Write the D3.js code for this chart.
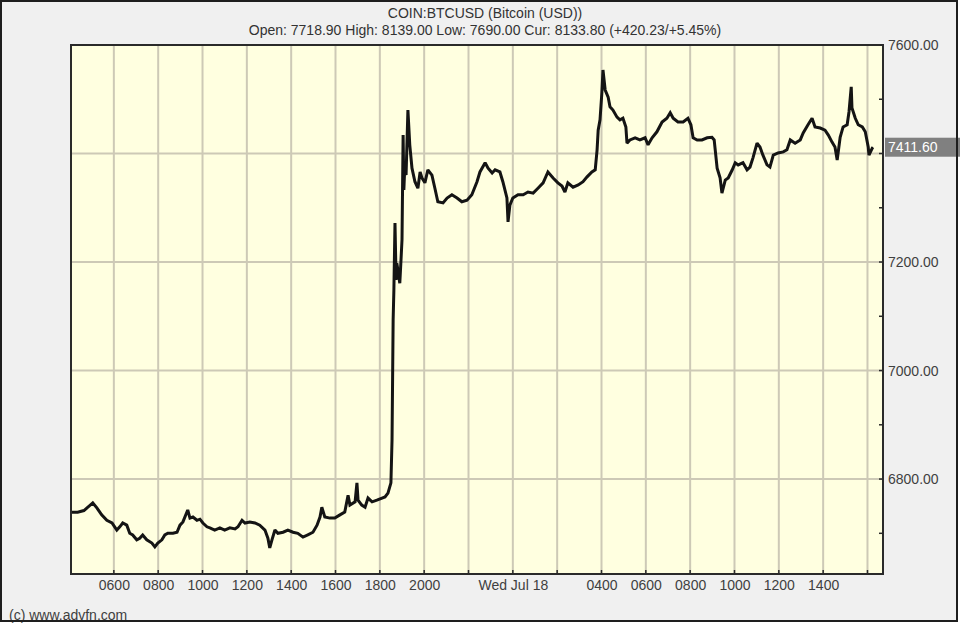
<!DOCTYPE html>
<html>
<head>
<meta charset="utf-8">
<script src="https://cdn.jsdelivr.net/npm/d3@7"></script>
<style>
  html, body { margin: 0; padding: 0; background: #ffffff; }
  svg { display: block; font-family: "Liberation Sans", Arial, sans-serif; }
</style>
</head>
<body>
<svg id="chart" width="960" height="624"></svg>
<script>
// ---------------- data ----------------
const titleLine1 = "COIN:BTCUSD (Bitcoin (USD))";
const titleLine2 = "Open: 7718.90 High: 8139.00 Low: 7690.00 Cur: 8133.80 (+420.23/+5.45%)";
const copyright = "(c) www.advfn.com";
const currentPrice = 7411.60;

const jul17Times = ["04:06","04:22","04:39","05:03","05:14","05:27","05:41","05:55","06:08","06:16",
  "06:24","06:35","06:43","06:51","07:02","07:10","07:18","07:29","07:43","07:51",
  "07:59","08:10","08:18","08:26","08:40","08:51","08:59","09:07","09:20","09:26",
  "09:34","09:45","09:53","10:01","10:12","10:20","10:33","10:47","11:00","11:14",
  "11:28","11:36","11:47","11:55","12:08","12:22","12:35","12:49","12:57","13:02",
  "13:08","13:16","13:24","13:38","13:51","14:05","14:18","14:32","14:45","14:59",
  "15:10","15:18","15:23","15:31","15:45","15:58","16:12","16:25","16:34","16:39",
  "16:53","16:58","17:01","17:11","17:20","17:28","17:39","17:52","18:06","18:14",
  "18:22","18:30","18:33","18:36","18:38","18:41","18:44","18:46","18:49","18:54",
  "18:57","19:00","19:03","19:05","19:08","19:11","19:16","19:21","19:27","19:35",
  "19:43","19:49","19:54","20:02","20:10","20:21","20:29","20:37","20:51","21:02",
  "21:15","21:29","21:42","21:56","22:09","22:23","22:31","22:45","22:53","23:04",
  "23:12","23:25","23:33","23:44","23:47","23:52"];
const jul17Prices = [6739,6739,6742,6756,6747,6734,6724,6719,6706,6712,
  6719,6715,6700,6697,6688,6691,6697,6688,6682,6675,
  6682,6688,6697,6700,6700,6702,6715,6721,6743,6728,
  6730,6724,6726,6719,6712,6710,6706,6710,6706,6710,
  6708,6712,6724,6719,6721,6719,6715,6706,6691,6673,
  6688,6706,6700,6702,6706,6702,6700,6693,6697,6702,
  6715,6730,6748,6730,6728,6728,6734,6739,6770,6752,
  6758,6793,6761,6752,6748,6765,6758,6761,6765,6767,
  6774,6793,6872,7093,7148,7272,7167,7198,7185,7161,
  7200,7241,7434,7333,7384,7360,7480,7416,7373,7348,
  7336,7366,7355,7346,7370,7360,7336,7311,7309,7318,
  7324,7318,7311,7314,7324,7348,7366,7383,7373,7364,
  7370,7366,7348,7318,7274,7305];

const jul18Times = ["00:00","00:14","00:28","00:41","00:55","01:08","01:22","01:35","01:49","02:02",
  "02:13","02:21","02:29","02:43","02:57","03:10","03:21","03:34","03:43","03:48",
  "03:51","03:56","04:01","04:04","04:10","04:18","04:23","04:31","04:42","04:50",
  "04:58","05:06","05:09","05:17","05:31","05:44","05:58","06:06","06:17","06:30",
  "06:44","06:57","07:06","07:14","07:27","07:41","07:54","08:02","08:08","08:19",
  "08:32","08:46","08:59","09:05","09:13","09:21","09:26","09:35","09:43","09:54",
  "10:02","10:10","10:23","10:34","10:42","10:50","11:01","11:09","11:17","11:28",
  "11:36","11:45","11:58","12:12","12:22","12:31","12:44","12:58","13:06","13:19",
  "13:30","13:38","13:52","14:05","14:14","14:24","14:32","14:38","14:46","14:54",
  "15:05","15:10","15:16","15:18","15:27","15:35","15:46","15:54","16:02","16:04",
  "16:13","16:15"];
const jul18Prices = [7318,7324,7324,7329,7327,7336,7346,7366,7355,7346,
  7340,7329,7346,7338,7342,7348,7357,7366,7370,7406,
  7443,7462,7512,7554,7517,7504,7486,7480,7467,7462,
  7465,7449,7419,7425,7429,7425,7429,7416,7429,7440,
  7458,7465,7475,7465,7458,7458,7465,7453,7429,7425,
  7425,7429,7430,7425,7373,7355,7327,7351,7355,7370,
  7383,7379,7383,7370,7375,7392,7419,7412,7397,7379,
  7375,7397,7401,7403,7407,7425,7419,7425,7438,7453,
  7465,7449,7447,7443,7434,7421,7412,7388,7430,7449,
  7453,7477,7523,7484,7465,7453,7449,7440,7412,7397,
  7410,7411.6];

const yDomain = [6625, 7600];
const yGridValues = [7600, 7400, 7200, 7000, 6800];
const yMinorValues = [7500, 7300, 7100, 6900, 6700];
const xStart = "2018-07-17T04:04:00Z";
const xEnd = "2018-07-18T16:42:00Z";
const xTickLabels = ["0600","0800","1000","1200","1400","1600","1800","2000","",
  "Wed Jul 18","","0400","0600","0800","1000","1200","1400",""];

// ---------------- build ----------------
const parse = d3.utcParse("%Y-%m-%d %H:%M");
const data = [];
jul17Times.forEach((t, i) => data.push({ t: parse("2018-07-17 " + t), v: jul17Prices[i] }));
jul18Times.forEach((t, i) => data.push({ t: parse("2018-07-18 " + t), v: jul18Prices[i] }));

const W = 960, H = 624;
const plot = { left: 71, right: 883, top: 45, bottom: 574 };

const svg = d3.select("#chart");

svg.append("rect").attr("x", 0).attr("y", 0).attr("width", W).attr("height", H).attr("fill", "#ffffff");
svg.append("rect").attr("x", 1).attr("y", 1).attr("width", 956).attr("height", 620).attr("fill", "#f0f0f0");

const x = d3.scaleUtc().domain([new Date(xStart), new Date(xEnd)]).range([plot.left, plot.right]);
const y = d3.scaleLinear().domain(yDomain).range([plot.bottom, plot.top]);

svg.append("rect")
  .attr("x", plot.left).attr("y", plot.top)
  .attr("width", plot.right - plot.left).attr("height", plot.bottom - plot.top)
  .attr("fill", "#ffffe0");

const xTicks = d3.utcHour.every(2).range(new Date("2018-07-17T06:00:00Z"), new Date("2018-07-18T16:01:00Z"));

// grid
const grid = svg.append("g").attr("stroke", "#cdc9b6").attr("stroke-width", 2);
grid.selectAll("line.v").data(xTicks).join("line")
  .attr("x1", d => x(d)).attr("x2", d => x(d))
  .attr("y1", plot.top).attr("y2", plot.bottom);
grid.selectAll("line.h").data(yGridValues.filter(v => v < 7600)).join("line")
  .attr("x1", plot.left).attr("x2", plot.right)
  .attr("y1", d => y(d)).attr("y2", d => y(d));

// price line
svg.append("clipPath").attr("id", "plotclip").append("rect")
  .attr("x", plot.left).attr("y", plot.top)
  .attr("width", plot.right - plot.left).attr("height", plot.bottom - plot.top);

const line = d3.line().x(d => x(d.t)).y(d => y(d.v));
svg.append("path")
  .datum(data)
  .attr("clip-path", "url(#plotclip)")
  .attr("fill", "none")
  .attr("stroke", "#141414")
  .attr("stroke-width", 3)
  .attr("stroke-linejoin", "miter")
  .attr("stroke-miterlimit", 2)
  .attr("d", line);

// plot border
svg.append("rect")
  .attr("x", plot.left).attr("y", plot.top)
  .attr("width", plot.right - plot.left).attr("height", plot.bottom - plot.top)
  .attr("fill", "none").attr("stroke", "#2a2a2a").attr("stroke-width", 2);

// bottom axis
const xAxis = d3.axisBottom(x).tickValues(xTicks).tickSize(0).tickPadding(0)
  .tickFormat((d, i) => xTickLabels[i]);
const gx = svg.append("g").attr("transform", `translate(0,${plot.bottom})`).call(xAxis);
gx.select(".domain").remove();
gx.selectAll("text").attr("dy", null).attr("y", 16).attr("font-size", 14)
  .attr("font-family", "Liberation Sans, Arial, sans-serif").attr("fill", "#404040");
svg.append("g").selectAll("line").data(xTicks).join("line")
  .attr("x1", d => x(d)).attr("x2", d => x(d))
  .attr("y1", plot.bottom - 4).attr("y2", plot.bottom)
  .attr("stroke", "#2a2a2a").attr("stroke-width", 1.5);

// right axis (labels hidden where the current-price box sits)
const cy = y(currentPrice);
const yAxis = d3.axisRight(y).tickValues(yGridValues).tickSize(0).tickPadding(0)
  .tickFormat(d => Math.abs(y(d) - cy) < 16 ? "" : d3.format(".2f")(d));
const gy = svg.append("g").attr("transform", `translate(${plot.right + 5},0)`).call(yAxis);
gy.select(".domain").remove();
gy.selectAll("text").attr("dy", "0.32em").attr("x", 0).attr("font-size", 14)
  .attr("font-family", "Liberation Sans, Arial, sans-serif").attr("fill", "#404040");
svg.append("g").selectAll("line").data(yGridValues.concat(yMinorValues)).join("line")
  .attr("x1", plot.right - 4).attr("x2", plot.right)
  .attr("y1", d => y(d)).attr("y2", d => y(d))
  .attr("stroke", "#2a2a2a").attr("stroke-width", 1.5);

// current price marker
svg.append("rect").attr("x", plot.right + 2).attr("y", cy - 9.5)
  .attr("width", W - plot.right - 2).attr("height", 19).attr("fill", "#808080");
svg.append("text").attr("x", plot.right + 5).attr("y", cy).attr("dy", "0.36em")
  .attr("font-size", 14).attr("fill", "#ffffff").text(d3.format(".2f")(currentPrice));

// titles
svg.append("text").attr("x", 485).attr("y", 18).attr("text-anchor", "middle")
  .attr("font-size", 14).attr("fill", "#333333").text(titleLine1);
svg.append("text").attr("x", 485).attr("y", 35).attr("text-anchor", "middle")
  .attr("font-size", 14).attr("fill", "#333333").text(titleLine2);

// copyright
svg.append("text").attr("x", 9).attr("y", 620).attr("font-size", 14)
  .attr("fill", "#404040").text(copyright);

// outer frame
svg.append("rect").attr("x", 1).attr("y", 1).attr("width", 956).attr("height", 620)
  .attr("fill", "none").attr("stroke", "#1e1e1e").attr("stroke-width", 2);
</script>
</body>
</html>
